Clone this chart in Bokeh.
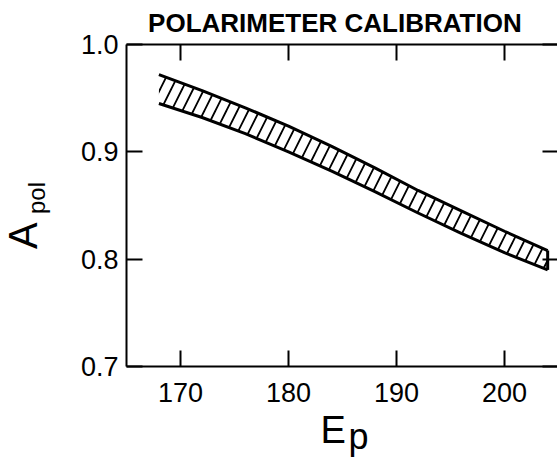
import math
from bokeh.plotting import figure
from bokeh.models import Range1d, LinearAxis, FixedTicker, Label
from bokeh.embed import file_html
from bokeh.resources import INLINE

# ---- data ----
E_p = [168, 172, 176, 180, 184, 188, 192, 196, 200, 204]
A_upper = [0.972, 0.957, 0.941, 0.924, 0.905, 0.885, 0.864, 0.845, 0.826, 0.808]
A_lower = [0.945, 0.932, 0.917, 0.900, 0.882, 0.863, 0.843, 0.824, 0.806, 0.790]

x_ticks = [170, 180, 190, 200]
y_ticks = [0.7, 0.8, 0.9, 1.0]
y_tick_labels = {0.7: "0.7", 0.8: "0.8", 0.9: "0.9", 1.0: "1.0"}
x_tick_labels = {170: "170", 180: "180", 190: "190", 200: "200"}
x_lim = (165, 205)
y_lim = (0.7, 1.0)
title_text = "POLARIMETER  CALIBRATION"

FONT = "Liberation Sans"

# the frame spans the whole canvas; the visible box is drawn by axes at fixed locations
p = figure(width=557, height=460, output_backend="svg", toolbar_location=None,
           x_range=Range1d(153.33, 204.91), y_range=Range1d(0.6124, 1.041),
           min_border=0, x_axis_location=None, y_axis_location=None)
p.outline_line_color = None
p.background_fill_color = "white"
p.border_fill_color = "white"
for g in p.grid:
    g.visible = False

def make_axis(loc, ticks, bounds, overrides=None, show_labels=False):
    ax = LinearAxis(fixed_location=loc, bounds=bounds,
                    ticker=FixedTicker(ticks=ticks))
    ax.minor_tick_line_color = None
    ax.major_tick_in = 16
    ax.major_tick_out = 0
    ax.major_tick_line_width = 2
    ax.major_tick_line_color = "black"
    ax.axis_line_width = 2
    ax.axis_line_color = "black"
    if show_labels:
        ax.major_label_overrides = overrides
        ax.major_label_text_font = FONT
        ax.major_label_text_font_size = "27px"
        ax.major_label_text_color = "black"
    else:
        ax.major_label_text_color = None
    return ax

bottom = make_axis(y_lim[0], x_ticks, x_lim, x_tick_labels, True)
bottom.major_label_standoff = 17
p.add_layout(bottom, "below")
left = make_axis(x_lim[0], y_ticks, y_lim, y_tick_labels, True)
left.major_label_standoff = 8
p.add_layout(left, "left")
top = make_axis(y_lim[1], x_ticks, x_lim)
p.add_layout(top, "above")
right = make_axis(x_lim[1], y_ticks, y_lim)
p.add_layout(right, "right")

# hatched band
p.varea(x=E_p, y1=A_lower, y2=A_upper, fill_color=None, fill_alpha=0,
        hatch_pattern="/", hatch_color="black", hatch_weight=1.8, hatch_scale=22)
p.line(E_p, A_upper, line_color="black", line_width=3)
p.line(E_p, A_lower, line_color="black", line_width=3)
p.segment(x0=[E_p[-1]], y0=[A_lower[-1]], x1=[E_p[-1]], y1=[A_upper[-1]],
          line_color="black", line_width=3)

# texts
p.add_layout(Label(x=184.63, y=1.0205, text=title_text, text_font=FONT,
                   text_font_style="bold", text_font_size="26px", text_color="black",
                   text_align="center", text_baseline="alphabetic"))
p.add_layout(Label(x=155.37, y=0.822, text="A", text_font=FONT,
                   text_font_size="40px", angle=math.pi / 2, text_color="black",
                   text_align="center", text_baseline="alphabetic"))
p.add_layout(Label(x=156.67, y=0.857, text="pol", text_font=FONT,
                   text_font_size="24px", angle=math.pi / 2, text_color="black",
                   text_align="center", text_baseline="alphabetic"))
p.add_layout(Label(x=182.96, y=0.6404, text="E", text_font=FONT,
                   text_font_size="38px", text_color="black",
                   text_align="left", text_baseline="alphabetic"))
p.add_layout(Label(x=185.56, y=0.6343, text="p", text_font=FONT,
                   text_font_size="36px", text_color="black",
                   text_align="left", text_baseline="alphabetic"))

open("out.html", "w").write(file_html(p, INLINE))
